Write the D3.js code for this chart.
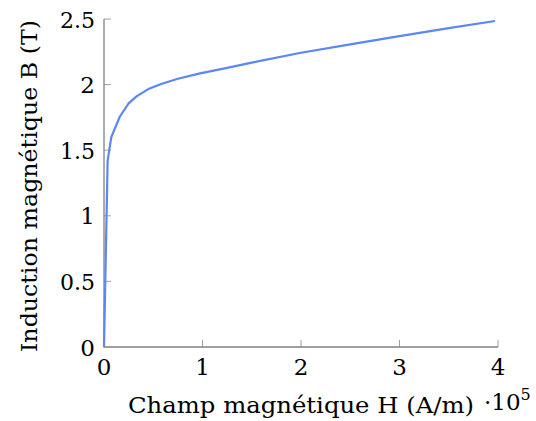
<!DOCTYPE html>
<html><head><meta charset="utf-8">
<script src="https://cdn.jsdelivr.net/npm/d3@7"></script>
<style>body{margin:0;background:#fff}</style>
</head><body>
<svg id="c" width="536" height="421"></svg>
<script>
const H = [0, 3700, 7400, 16000, 25000, 33000, 45000, 58000, 75000, 97500, 125000, 150000, 200000, 250000, 300000, 350000, 397000];
const B = [0, 1.42, 1.60, 1.755, 1.857, 1.91, 1.966, 2.005, 2.045, 2.086, 2.128, 2.167, 2.243, 2.307, 2.37, 2.43, 2.485];
const xTicks = [0, 100000, 200000, 300000, 400000];
const xTickLabels = ["0", "1", "2", "3", "4"];
const yTicks = [0, 0.5, 1, 1.5, 2, 2.5];
const yTickLabels = ["0", "0.5", "1", "1.5", "2", "2.5"];

const FONT = "'DejaVu Serif', serif";
const svg = d3.select("#c");
const x = d3.scaleLinear().domain([0, 400000]).range([104, 498]);
const y = d3.scaleLinear().domain([0, 2.5]).range([347, 19]);
const fs = 23;

const g = svg.append("g");
// ticks (inward)
g.selectAll(".xt").data(xTicks.slice(1)).join("line")
  .attr("x1", d => x(d)).attr("x2", d => x(d)).attr("y1", 347).attr("y2", 340)
  .attr("stroke", "#a0a0a0").attr("stroke-width", 1);
g.selectAll(".yt").data(yTicks.slice(1)).join("line")
  .attr("x1", 104).attr("x2", 111).attr("y1", d => y(d)).attr("y2", d => y(d))
  .attr("stroke", "#a0a0a0").attr("stroke-width", 1);
// axis lines
g.append("path").attr("d", `M${x(0)},${y(2.5)}V${y(0)}H${x(400000)}`)
  .attr("fill", "none").attr("stroke", "#808080").attr("stroke-width", 1.3);

// curve
const line = d3.line().x((d, i) => x(H[i])).y((d, i) => y(B[i])).curve(d3.curveLinear);
svg.append("path").datum(H).attr("d", line)
  .attr("fill", "none").attr("stroke", "#5b86f5").attr("stroke-width", 2.2).attr("stroke-linejoin", "round");

// tick labels
svg.selectAll(".xl").data(xTicks).join("text")
  .attr("x", d => x(d)).attr("y", 375).attr("text-anchor", "middle")
  .attr("font-family", FONT).attr("font-size", fs)
  .text((d, i) => xTickLabels[i]);
svg.selectAll(".yl").data(yTicks).join("text")
  .attr("x", 95).attr("y", d => y(d) + 8.5).attr("text-anchor", "end")
  .attr("font-family", FONT).attr("font-size", fs)
  .attr("textLength", (d, i) => yTickLabels[i].length > 1 ? 35 : null)
  .attr("lengthAdjust", "spacingAndGlyphs")
  .text((d, i) => yTickLabels[i]);

// multiplier
const m = svg.append("text").attr("x", 484).attr("y", 410)
  .attr("font-family", FONT).attr("font-size", fs);
m.append("tspan").text("·10");
m.append("tspan").attr("dy", -10).attr("font-size", 16).text("5");

// axis titles
svg.append("text").attr("x", 128).attr("y", 413)
  .attr("font-family", FONT).attr("font-size", fs)
  .attr("textLength", 346).attr("lengthAdjust", "spacingAndGlyphs")
  .text("Champ magnétique H (A/m)");
svg.append("text").attr("transform", "translate(37,352) rotate(-90)")
  .attr("font-family", FONT).attr("font-size", fs)
  .attr("textLength", 332).attr("lengthAdjust", "spacingAndGlyphs")
  .text("Induction magnétique B (T)");
</script>
</body></html>
